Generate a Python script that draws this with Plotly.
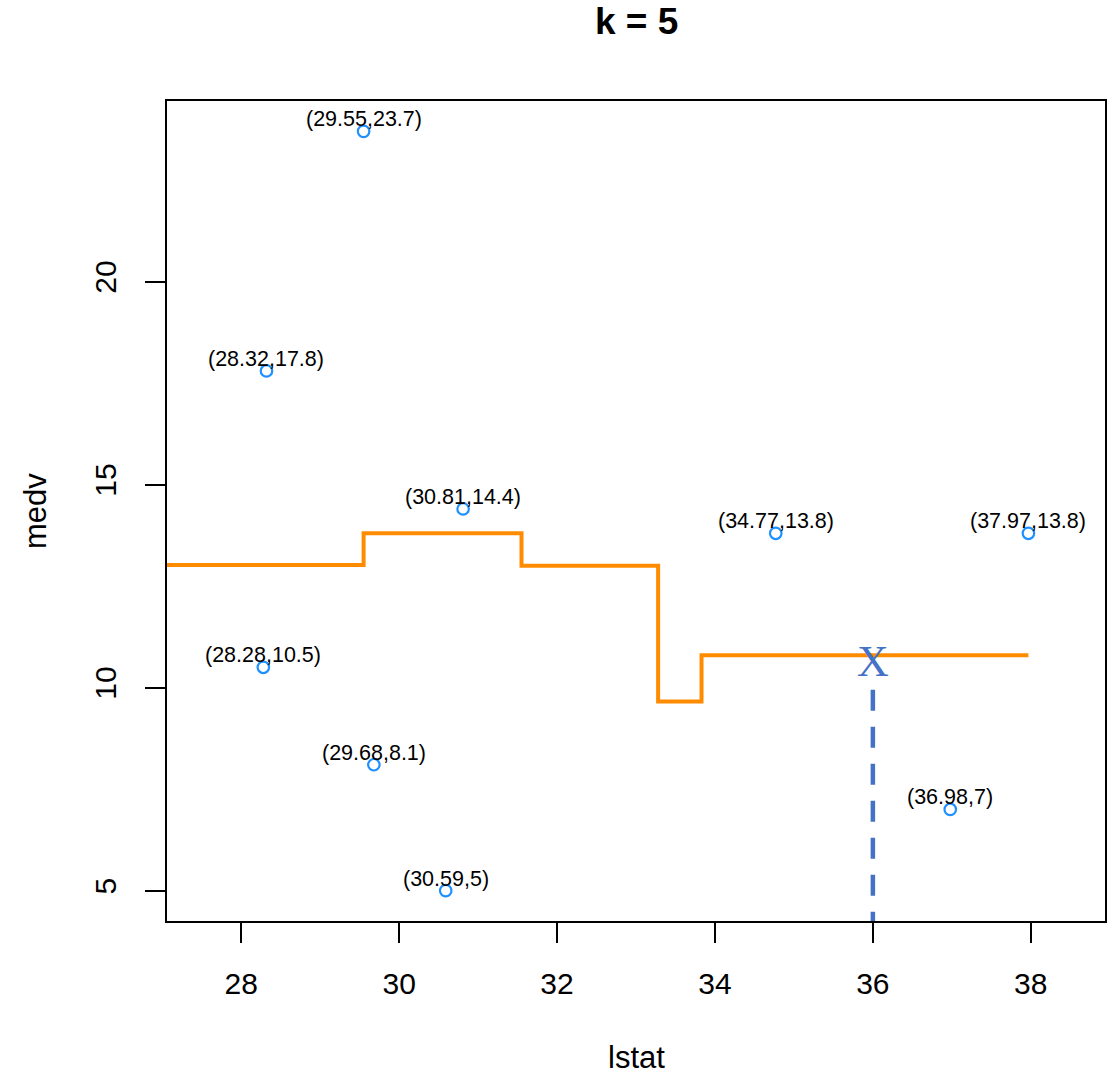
import plotly.graph_objects as go

# Data
lstat = [28.28, 28.32, 29.55, 29.68, 30.59, 30.81, 34.77, 36.98, 37.97]
medv = [10.5, 17.8, 23.7, 8.1, 5.0, 14.4, 13.8, 7.0, 13.8]
point_labels = ["(28.28,10.5)", "(28.32,17.8)", "(29.55,23.7)", "(29.68,8.1)",
                "(30.59,5)", "(30.81,14.4)", "(34.77,13.8)", "(36.98,7)", "(37.97,13.8)"]

# k-NN (k=5) prediction step line
step_x = [27.0, 29.55, 31.55, 33.28, 33.83, 37.97]
step_y = [13.02, 13.8, 13.0, 9.66, 10.8, 10.8]

query_x = 36
query_pred = 10.8
query_line_top = 9.95

x_ticks = [28, 30, 32, 34, 36, 38]
y_ticks = [5, 10, 15, 20]
x_range = [27.06, 38.94]
y_range = [4.252, 24.448]

FONT = "Liberation Sans, Arial, Helvetica, sans-serif"

fig = go.Figure()

# step line
fig.add_trace(go.Scatter(
    x=step_x, y=step_y, mode="lines", line=dict(color="#FF8C00", width=4, shape="hv"),
    hoverinfo="skip", showlegend=False))

# dashed vertical line at query point
fig.add_trace(go.Scatter(
    x=[query_x, query_x], y=[query_line_top, y_range[0]], mode="lines",
    line=dict(color="#4472C4", width=4.5, dash="21px,16px"),
    hoverinfo="skip", showlegend=False))

# points
fig.add_trace(go.Scatter(
    x=lstat, y=medv, mode="markers",
    marker=dict(symbol="circle-open", size=11.5, color="#1E90FF", line=dict(width=2.2, color="#1E90FF")),
    showlegend=False))

annotations = []
for xv, yv, lab in zip(lstat, medv, point_labels):
    annotations.append(dict(x=xv, y=yv, xref="x", yref="y", text=lab, showarrow=False,
                            yshift=12, font=dict(family=FONT, size=21.5, color="black")))

# X marker for prediction
annotations.append(dict(x=query_x, y=query_pred, xref="x", yref="y", text="X", showarrow=False,
                        yshift=-6,
                        font=dict(family="Liberation Serif, Times New Roman, serif", size=44, color="#4472C4")))

# Title and axis titles
annotations.append(dict(x=0.5, y=1, xref="paper", yref="paper", text="<b>k = 5</b>", showarrow=False,
                        yshift=80, yanchor="middle",
                        font=dict(family=FONT, size=37, color="black")))
annotations.append(dict(x=0.5, y=0, xref="paper", yref="paper", text="lstat", showarrow=False,
                        yshift=-136, yanchor="middle",
                        font=dict(family=FONT, size=31, color="black")))
annotations.append(dict(x=0, y=0.5, xref="paper", yref="paper", text="medv", showarrow=False,
                        xshift=-132, xanchor="center", textangle=-90,
                        font=dict(family=FONT, size=31, color="black")))

fig.update_layout(
    width=1112, height=1075,
    margin=dict(l=167, r=7, t=101, b=154),
    paper_bgcolor="white", plot_bgcolor="white",
    annotations=annotations,
    showlegend=False,
)

fig.update_xaxes(range=x_range, tickvals=x_ticks, ticktext=[str(v) for v in x_ticks],
                 showgrid=False, zeroline=False, showline=True, mirror=True,
                 linecolor="black", linewidth=1.5, ticks="outside", ticklen=20, tickwidth=1.5,
                 tickcolor="black", tickfont=dict(family=FONT, size=30, color="black"),
                 automargin=False, ticklabelstandoff=15)
fig.update_yaxes(range=y_range, tickvals=y_ticks, ticktext=[str(v) for v in y_ticks],
                 showgrid=False, zeroline=False, showline=True, mirror=True,
                 linecolor="black", linewidth=1.5, ticks="outside", ticklen=20, tickwidth=1.5,
                 tickcolor="black", tickfont=dict(family=FONT, size=30, color="black"),
                 tickangle=-90, automargin=False, ticklabelstandoff=17)

fig.write_html("out.html", config={"displayModeBar": False},
               post_script="document.body.style.margin='0px';document.body.style.overflow='hidden';")
